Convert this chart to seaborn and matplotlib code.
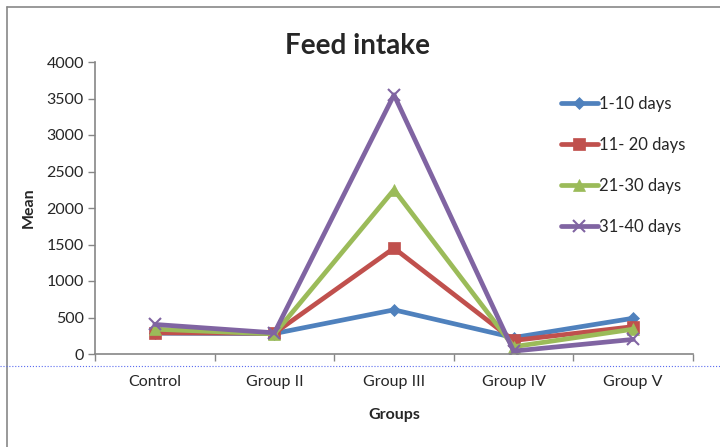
import matplotlib.pyplot as plt
import pandas as pd
import seaborn as sns
from matplotlib.lines import Line2D

groups = ["Control", "Group II", "Group III", "Group IV", "Group V"]
series_names = ["1-10 days", "11- 20 days", "21-30 days", "31-40 days"]
days_1_10 = [285, 280, 605, 225, 490]
days_11_20 = [290, 285, 1450, 185, 375]
days_21_30 = [340, 275, 2250, 100, 340]
days_31_40 = [405, 290, 3550, 40, 200]

colors = ["#4F81BD", "#C0504D", "#9BBB59", "#8064A2"]
markers = ["D", "s", "^", "x"]
marker_sizes = [6, 8, 8, 8]

sns.set_style("white")
plt.rcParams["font.family"] = ["Lato", "DejaVu Sans"]

rows = []
for name, vals in zip(series_names, [days_1_10, days_11_20, days_21_30, days_31_40]):
    for i, v in enumerate(vals):
        rows.append({"pos": i, "value": v, "series": name})
df = pd.DataFrame(rows)

fig = plt.figure(figsize=(7.2, 4.47), dpi=100)
ax = fig.add_axes([95 / 720, 1 - 354 / 447, 598 / 720, 292 / 447])

for name, c, m, ms in zip(series_names, colors, markers, marker_sizes):
    sub = df[df["series"] == name]
    sns.lineplot(
        data=sub, x="pos", y="value", ax=ax, color=c, lw=3.4,
        marker=m, markersize=ms, markeredgecolor=c, markeredgewidth=1.5 if m == "x" else 0.5,
        label=name,
    )

ax.set_xlim(-0.5, 4.5)
ax.set_ylim(0, 4000)
ax.set_yticks(range(0, 4001, 500))
ax.set_xticks(range(len(groups)))
ax.set_xticklabels(groups, fontsize=11.5)
ax.set_xticks([x - 0.5 for x in range(len(groups) + 1)], minor=True)
ax.tick_params(axis="x", which="major", length=0, pad=15)
ax.tick_params(axis="x", which="minor", bottom=True, length=5, width=1, color="#868686", direction="out")
ax.tick_params(axis="y", left=True, length=5, width=1, color="#868686", direction="out", labelsize=11.5, pad=3)
for side in ["top", "right"]:
    ax.spines[side].set_visible(False)
for side in ["left", "bottom"]:
    ax.spines[side].set_color("#868686")
    ax.spines[side].set_linewidth(1.2)

ax.set_xlabel("Groups", fontsize=11.5, fontweight="bold", labelpad=14)
ax.set_ylabel("Mean", fontsize=11.5, fontweight="bold", labelpad=8)
fig.text(0.497, 0.898, "Feed intake", ha="center", va="center", fontsize=20, fontweight="bold")

handles, labels = ax.get_legend_handles_labels()
ax.legend(
    handles, labels, loc="upper left", bbox_to_anchor=(546 / 720, 1 - 81 / 447),
    bbox_transform=fig.transFigure, frameon=False, fontsize=12,
    handlelength=2.2, handletextpad=0.1, labelspacing=1.5,
)

# chart frame and the dotted guide line seen in the source
fig.add_artist(Line2D([7 / 720, 1], [1 - 7 / 447, 1 - 7 / 447], color="#888888", lw=1.2))
fig.add_artist(Line2D([7 / 720, 7 / 720], [0, 1 - 7 / 447], color="#888888", lw=1.2))
fig.add_artist(Line2D([0, 1], [1 - 366 / 447, 1 - 366 / 447], color="#5b6cf0", lw=0.8, ls=":"))

fig.savefig("out.png", dpi=100)
